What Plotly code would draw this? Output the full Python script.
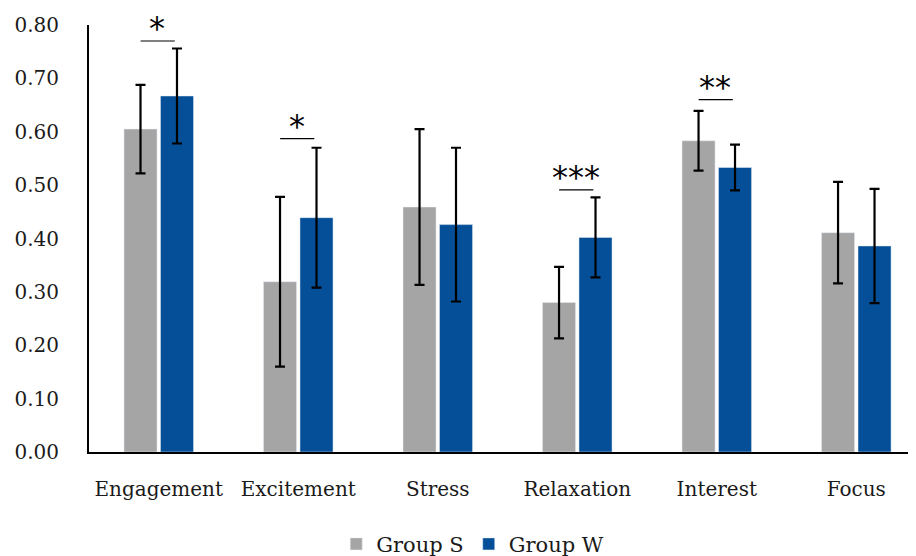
import plotly.graph_objects as go

categories = ["Engagement", "Excitement", "Stress", "Relaxation", "Interest", "Focus"]
group_s = [0.605, 0.319, 0.459, 0.280, 0.583, 0.411]
group_s_err = [0.083, 0.159, 0.146, 0.067, 0.056, 0.095]
group_w = [0.667, 0.439, 0.426, 0.402, 0.533, 0.386]
group_w_err = [0.089, 0.131, 0.144, 0.075, 0.043, 0.107]
y_ticks = [0.0, 0.1, 0.2, 0.3, 0.4, 0.5, 0.6, 0.7, 0.8]

sig_index = [0, 1, 3, 4]
sig_text = ["*", "*", "***", "**"]
sig_line_y = [0.770, 0.587, 0.491, 0.660]

GRAY = "#A5A5A5"
BLUE = "#044F98"
FONT = "DejaVu Serif"
TXT = "#1a1a1a"

fig = go.Figure()
fig.add_trace(go.Bar(
    name="Group S", x=categories, y=group_s, marker_color=GRAY,
    error_y=dict(type="data", array=group_s_err, color="black", thickness=2.2, width=5),
))
fig.add_trace(go.Bar(
    name="Group W", x=categories, y=group_w, marker_color=BLUE,
    error_y=dict(type="data", array=group_w_err, color="black", thickness=2.2, width=5),
))

for i, txt, ly in zip(sig_index, sig_text, sig_line_y):
    fig.add_shape(type="line", xref="x", yref="y", x0=i - 0.13, x1=i + 0.115,
                  y0=ly, y1=ly, line=dict(color="black", width=1.2))
    fig.add_annotation(x=i - 0.01, y=ly, xref="x", yref="y", text=txt, showarrow=False,
                       yanchor="middle", yshift=13,
                       font=dict(family="DejaVu Sans", size=32, color="black"))

fig.update_layout(
    width=908, height=580,
    margin=dict(l=81, r=0, t=17, b=135.5),
    plot_bgcolor="white", paper_bgcolor="white",
    barmode="group", bargap=0.477, bargroupgap=0.094,
    font=dict(family=FONT, size=20, color=TXT),
    showlegend=True,
    legend=dict(orientation="h", x=0.464, xanchor="center", y=-0.216, yanchor="middle",
                font=dict(family=FONT, size=21, color=TXT), traceorder="normal"),
    xaxis=dict(range=[-0.5, 5.428], showline=True, linecolor="black", linewidth=2,
               ticks="", showgrid=False, ticklabelstandoff=18,
               tickfont=dict(family=FONT, size=20, color=TXT)),
    yaxis=dict(range=[0, 0.8], tickvals=y_ticks, tickformat=".2f", showline=True,
               linecolor="black", linewidth=2, ticks="", showgrid=False, zeroline=False,
               ticklabelstandoff=24,
               tickfont=dict(family=FONT, size=20, color=TXT)),
)

fig.write_html("out.html")
